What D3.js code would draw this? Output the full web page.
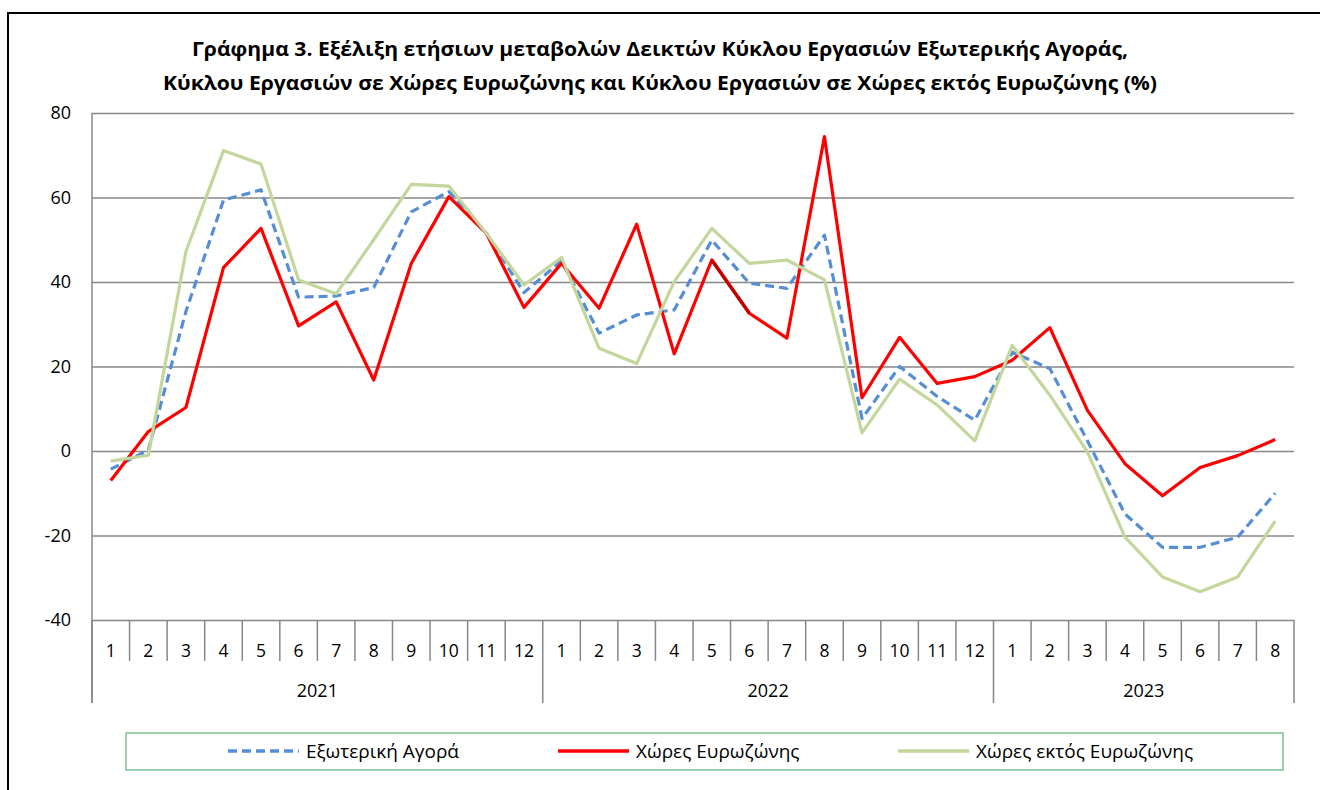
<!DOCTYPE html>
<html lang="el">
<head>
<meta charset="UTF-8">
<title>Γράφημα 3</title>
<script src="https://d3js.org/d3.v7.min.js"></script>
<style>
  body { margin: 0; background: #fff; }
  svg text { font-family: "Open Sans", "Noto Sans", sans-serif; fill: #000; }
  .grid line { stroke: #878787; stroke-width: 1.5; }
  .grid .domain { display: none; }
  .line { fill: none; stroke-width: 3.2; stroke-linejoin: round; }
</style>
</head>
<body>
<script>
// months shown on the x axis, grouped by year
var months = [1,2,3,4,5,6,7,8,9,10,11,12, 1,2,3,4,5,6,7,8,9,10,11,12, 1,2,3,4,5,6,7,8];
var years = ["2021", "2022", "2023"];
var yearCounts = [12, 12, 8];
var yTicks = [-40, -20, 0, 20, 40, 60, 80];

// annual change (%)
var extAgora = [-4.3, 0.2, 33, 59.4, 61.8, 36.4, 36.7, 38.7, 56.6, 61.4, 51.5, 37.5,
                45.0, 27.9, 32.2, 33.4, 49.9, 39.7, 38.5, 51.1, 7.7, 20.0, 12.9, 7.3,
                23.4, 19.5, 2.4, -14.9, -22.8, -22.8, -20.4, -10.0];
var eurozone = [-7.0, 4.6, 10.3, 43.4, 52.7, 29.6, 35.3, 16.8, 44.4, 60.2, 51.5, 34.0,
                44.4, 33.8, 53.7, 23.0, 45.2, 32.6, 26.7, 74.4, 12.6, 26.9, 16.0, 17.6,
                21.5, 29.2, 9.6, -3.0, -10.6, -3.9, -1.1, 2.7];
var nonEurozone = [-2.4, -1.0, 47.2, 71.1, 67.9, 40.5, 37.2, 50.0, 63.1, 62.7, 51.5, 39.3,
                   45.8, 24.3, 20.7, 40.1, 52.7, 44.4, 45.2, 40.5, 4.3, 17.0, 10.9, 2.4,
                   25.0, 13.2, -0.2, -20.4, -29.8, -33.3, -29.8, -16.6];

var series = [
  {name: "Εξωτερική Αγορά", values: extAgora, color: "#558ed5", dash: "9,5"},
  {name: "Χώρες Ευρωζώνης", values: eurozone, color: "#ff0000", dash: null},
  {name: "Χώρες εκτός Ευρωζώνης", values: nonEurozone, color: "#c3d69b", dash: null}
];

var W = 1320, H = 790;
var plotL = 92, plotR = 1294, plotT = 113, plotB = 620;

var svg = d3.select("body").append("svg")
    .attr("width", W)
    .attr("height", H);

// outer frame
svg.append("rect")
    .attr("x", 8).attr("y", 13)
    .attr("width", W + 20).attr("height", H + 20)
    .attr("fill", "#fff")
    .attr("stroke", "#000").attr("stroke-width", 2);

// title
var titleLines = [
  {t: "Γράφημα 3. Εξέλιξη  ετήσιων μεταβολών Δεικτών Κύκλου Εργασιών Εξωτερικής Αγοράς,", y: 56, w: 936},
  {t: "Κύκλου Εργασιών σε Χώρες Ευρωζώνης και Κύκλου Εργασιών σε Χώρες εκτός Ευρωζώνης (%)", y: 90, w: 994}
];
svg.selectAll(".title")
    .data(titleLines)
  .enter().append("text")
    .attr("class", "title")
    .attr("x", 660)
    .attr("y", function(d) { return d.y; })
    .attr("text-anchor", "middle")
    .attr("textLength", function(d) { return d.w; })
    .attr("lengthAdjust", "spacingAndGlyphs")
    .style("font-size", "20px")
    .style("font-weight", "bold")
    .text(function(d) { return d.t; });

var x = d3.scaleBand()
    .domain(d3.range(months.length))
    .range([plotL, plotR]);

var y = d3.scaleLinear()
    .domain([-40, 80])
    .range([plotB, plotT]);

// y gridlines + labels
var gy = svg.append("g")
    .attr("class", "grid")
    .attr("transform", "translate(" + plotL + ",0)")
    .call(d3.axisLeft(y).tickValues(yTicks)
        .tickFormat(function(d) { return String(d); })
        .tickSize(-(plotR - plotL)).tickPadding(21));
gy.selectAll("text").style("font-size", "18px").attr("fill", "#000");

// left axis line down to the year row
svg.append("line")
    .attr("x1", plotL).attr("x2", plotL)
    .attr("y1", plotT).attr("y2", 703)
    .attr("stroke", "#878787").attr("stroke-width", 1.5);

// month separators
var edges = d3.range(months.length + 1);
var yearEdges = [0];
yearCounts.forEach(function(c, i) { yearEdges.push(yearEdges[i] + c); });

svg.selectAll(".msep")
    .data(edges)
  .enter().append("line")
    .attr("class", "msep")
    .attr("x1", function(i) { return plotL + i * x.step(); })
    .attr("x2", function(i) { return plotL + i * x.step(); })
    .attr("y1", plotB)
    .attr("y2", function(i) { return yearEdges.indexOf(i) >= 0 ? 703 : 661; })
    .attr("stroke", "#878787").attr("stroke-width", 1.5);

svg.selectAll(".mlab")
    .data(months)
  .enter().append("text")
    .attr("class", "mlab")
    .attr("x", function(d, i) { return x(i) + x.bandwidth() / 2; })
    .attr("y", 657)
    .attr("text-anchor", "middle")
    .style("font-size", "17.5px")
    .text(function(d) { return d; });

svg.selectAll(".ylab")
    .data(years)
  .enter().append("text")
    .attr("class", "ylab")
    .attr("x", function(d, i) { return plotL + (yearEdges[i] + yearEdges[i + 1]) / 2 * x.step(); })
    .attr("y", 697)
    .attr("text-anchor", "middle")
    .style("font-size", "18px")
    .text(function(d) { return d; });

// lines
var line = d3.line()
    .x(function(d, i) { return x(i) + x.bandwidth() / 2; })
    .y(function(d) { return y(d); });

series.forEach(function(s) {
  svg.append("path")
      .datum(s.values)
      .attr("class", "line")
      .attr("stroke", s.color)
      .attr("stroke-dasharray", s.dash)
      .attr("d", line);
  if (s.values === eurozone) {
    // one segment (2022 months 6-7) is drawn darker in the original
    var seg = [16, 17];
    svg.append("path")
        .datum(seg)
        .attr("class", "line")
        .attr("stroke", "#c00000")
        .attr("d", d3.line()
            .x(function(i) { return x(i) + x.bandwidth() / 2; })
            .y(function(i) { return y(eurozone[i]); }));
  }
});

// legend
svg.append("rect")
    .attr("x", 126).attr("y", 733)
    .attr("width", 1157).attr("height", 37)
    .attr("fill", "none")
    .attr("stroke", "#7cc18e").attr("stroke-width", 1.5);

var legendX = [228, 558, 898];
var leg = svg.selectAll(".leg")
    .data(series)
  .enter().append("g")
    .attr("class", "leg")
    .attr("transform", function(d, i) { return "translate(" + legendX[i] + ",751)"; });
leg.append("line")
    .attr("x1", 0).attr("x2", 71)
    .attr("stroke", function(d) { return d.color; })
    .attr("stroke-width", 3.5)
    .attr("stroke-dasharray", function(d) { return d.dash; });
leg.append("text")
    .attr("x", 78)
    .attr("y", 7)
    .style("font-size", "19px")
    .text(function(d) { return d.name; });
</script>
</body>
</html>
